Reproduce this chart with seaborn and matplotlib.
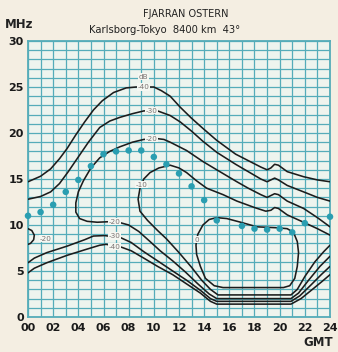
import matplotlib
matplotlib.use("Agg")
import matplotlib.pyplot as plt
import numpy as np
import pandas as pd
import seaborn as sns

# ---- data: signal-to-noise contours (dB) over hour (GMT) and frequency (MHz) ----
db40_upper_h = [0, 1, 1.8, 2.5, 3.1, 3.8, 4.5, 5.2, 5.9, 6.8, 7.8, 8.6, 9.3, 10.0, 10.6, 11.3, 12.1, 13.0,
                13.9, 15.0, 16.5, 17.5, 18.5, 19.0, 19.3, 19.6, 19.9, 20.6, 21.9, 23.0, 24]
db40_upper_f = [14.7, 15.3, 16.1, 17.2, 18.3, 19.8, 21.2, 22.5, 23.5, 24.4, 24.9, 25.0, 25.0, 25.0, 24.6, 24.0,
                22.8, 21.6, 20.5, 19.2, 17.7, 17.0, 16.3, 16.0, 16.2, 16.6, 16.5, 15.8, 15.25, 14.9, 14.7]

db30_upper_h = [0, 1, 1.8, 2.5, 3.2, 4.0, 4.8, 5.7, 6.5, 7.3, 8.3, 9.2, 10.2, 11.3, 12.1, 13.0, 13.9, 15.0,
                16.5, 17.5, 18.5, 19.0, 19.3, 19.6, 19.9, 20.6, 21.9, 23.0, 24]
db30_upper_f = [12.8, 13.1, 13.6, 14.5, 15.8, 17.4, 19.0, 20.6, 21.3, 21.7, 22.1, 22.4, 22.45, 21.9, 21.2,
                20.2, 19.1, 17.9, 16.6, 15.8, 15.0, 14.7, 14.9, 15.1, 14.9, 14.3, 13.6, 13.0, 12.6]

db20_h = [24, 23.2, 22.3, 21.5, 20.9, 15.0, 14.4, 13.5, 12.5, 11.5, 10.5, 9.7, 8.8, 8.0, 7.2, 6.3, 5.5, 4.7,
          4.1, 3.8, 3.8, 4.0, 4.4, 5.0, 5.7, 6.5, 7.3, 8.3, 9.2, 10.2, 10.8, 11.3, 12.6, 13.9, 15.0, 16.6,
          17.5, 18.5, 19.0, 19.3, 19.6, 19.9, 20.6, 21.9, 23.0, 24]
db20_f = [6.6, 5.5, 4.0, 2.6, 2.0, 2.0, 2.5, 3.6, 4.9, 6.1, 7.2, 8.2, 9.3, 10.0, 10.3, 10.35, 10.3, 10.4,
          10.7, 11.4, 12.4, 13.6, 14.8, 16.2, 17.3, 18.0, 18.5, 19.0, 19.3, 19.4, 19.3, 19.0, 18.1, 16.9,
          16.0, 14.7, 14.0, 13.3, 13.0, 13.2, 13.4, 13.3, 12.6, 11.8, 10.8, 9.8]

db20_edge_h = [0, 0.3, 0.5, 0.45, 0.2, 0]
db20_edge_f = [9.6, 9.4, 8.9, 8.4, 8.0, 7.9]

db30_lower_h = [0, 0.5, 1.5, 3.1, 4.5, 5.2, 6.1, 7.4, 8.2, 9.2, 10.3, 11.5, 12.6, 13.7, 14.5, 15.0,
                20.9, 21.6, 22.5, 23.3, 24]
db30_lower_f = [5.9, 6.4, 7.0, 7.7, 8.4, 8.8, 8.85, 8.6, 8.1, 7.1, 6.1, 5.0, 4.0, 2.9, 2.0, 1.7,
                1.7, 2.3, 3.5, 4.6, 5.5]

db40_lower_h = [0, 0.5, 1.5, 3.1, 4.5, 5.7, 6.2, 7.4, 8.2, 9.2, 10.3, 11.5, 12.6, 13.7, 14.5, 15.0,
                20.9, 21.7, 22.6, 23.4, 24]
db40_lower_f = [4.8, 5.3, 5.9, 6.7, 7.3, 7.8, 7.9, 7.6, 7.2, 6.4, 5.5, 4.6, 3.6, 2.6, 1.7, 1.4,
                1.4, 2.0, 3.0, 3.9, 4.6]

db10_h = [24, 23.5, 22.8, 22.0, 21.4, 20.9, 15.1, 14.5, 13.8, 13.0, 12.0, 11.0, 10.3, 9.5, 8.9, 8.75,
          8.9, 9.2, 9.7, 10.4, 11.3, 12.0, 12.6, 13.4, 14.2, 15.5, 16.6, 18.0, 18.9, 19.3, 19.6, 19.9,
          20.6, 21.9, 23.0, 24]
db10_f = [7.8, 7.1, 6.0, 4.4, 3.0, 2.4, 2.4, 3.0, 4.0, 5.4, 7.0, 8.5, 9.4, 10.5, 11.5, 12.8,
          14.0, 15.0, 15.7, 16.2, 16.5, 16.2, 15.7, 14.8, 14.0, 13.3, 12.6, 11.9, 11.5, 11.6, 11.9, 11.8,
          11.1, 10.3, 9.6, 8.9]

db0_h = [13.4, 13.5, 13.9, 14.4, 15.0, 15.8, 16.9, 18.2, 19.8, 20.6, 21.1, 21.4, 21.5, 21.4, 21.2, 20.8,
         20.3, 15.5, 14.8, 14.1, 13.7, 13.4, 13.35, 13.4]
db0_f = [8.4, 9.0, 10.0, 10.6, 10.8, 10.7, 10.3, 9.8, 9.7, 9.6, 9.2, 8.2, 7.0, 5.5, 4.2, 3.4,
         3.2, 3.2, 3.4, 4.2, 5.5, 6.8, 7.8, 8.4]

# hourly maximum usable frequency points
muf_h = [0, 1, 2, 3, 4, 5, 6, 7, 8, 9, 10, 11, 12, 13, 14, 15, 17, 18, 19, 20, 21, 22, 24]
muf_f = [11.0, 11.4, 12.2, 13.6, 14.9, 16.4, 17.7, 18.0, 18.1, 18.1, 17.4, 16.6, 15.6, 14.2, 12.7, 10.5,
         9.9, 9.6, 9.5, 9.6, 9.2, 10.2, 10.9]

# contour level labels
label_text = ["dB", "-40", "-30", "-20", "-10", "0", "-20", "-30", "-40", "-20"]
label_h = [9.2, 9.2, 9.8, 9.8, 9.0, 13.4, 6.9, 6.9, 6.9, 1.4]
label_f = [26.1, 25.0, 22.4, 19.4, 14.4, 8.4, 10.35, 8.8, 7.65, 8.5]

hour_ticks = list(range(0, 25, 2))
hour_labels = [f"{h:02d}" for h in hour_ticks]
mhz_ticks = list(range(0, 31, 5))

# ---- drawing ----
sns.set_style("white")
plt.rcParams["font.family"] = ["DejaVu Sans"]

paper = "#f4eee2"
cell = "#eef4ee"
grid_c = "#55acb9"
ink = "#1c1c1c"

fig = plt.figure(figsize=(3.38, 3.52), dpi=100, facecolor=paper)
ax = fig.add_axes([28 / 338, 35 / 352, 302 / 338, 276 / 352])
ax.set_facecolor(cell)

paths = [
    (db40_upper_h, db40_upper_f),
    (db30_upper_h, db30_upper_f),
    (db20_h, db20_f),
    (db20_edge_h, db20_edge_f),
    (db30_lower_h, db30_lower_f),
    (db40_lower_h, db40_lower_f),
    (db10_h, db10_f),
    (db0_h, db0_f),
]
for hh, ff in paths:
    df = pd.DataFrame({"GMT": hh, "MHz": ff})
    sns.lineplot(data=df, x="GMT", y="MHz", sort=False, estimator=None,
                 color=ink, lw=1.15, ax=ax, zorder=3)

sns.scatterplot(x=muf_h, y=muf_f, color="#2a9eb1", s=22, edgecolor="none",
                ax=ax, zorder=4, clip_on=False)

for t, x, y in zip(label_text, label_h, label_f):
    ax.text(x, y, t, fontsize=5.2, color="#7a7272", ha="center", va="center", zorder=5,
            bbox=dict(boxstyle="square,pad=0.08", fc="#f5f7f2", ec="none"))

ax.set_xlim(0, 24)
ax.set_ylim(0, 30)
ax.set_xticks(hour_ticks)
ax.set_xticklabels(hour_labels, fontweight="bold")
ax.set_yticks(mhz_ticks)
ax.set_yticklabels([str(v) for v in mhz_ticks], fontweight="bold")
ax.set_xticks(range(0, 25), minor=True)
ax.set_yticks(range(0, 31), minor=True)
ax.grid(which="both", color=grid_c, lw=0.9)
ax.set_axisbelow(True)
ax.set_xlabel("")
ax.set_ylabel("")
ax.tick_params(which="both", length=0, labelsize=8, colors="#1a1a1a")
ax.tick_params(axis="x", pad=4)
ax.tick_params(axis="y", pad=3)
for s in ax.spines.values():
    s.set_color(grid_c)
    s.set_linewidth(1.3)

fig.text(186 / 338, 1 - 14 / 352, "FJARRAN OSTERN", ha="center", va="center",
         fontsize=7, color="#222")
fig.text(165 / 338, 1 - 30 / 352, "Karlsborg-Tokyo  8400 km  43°", ha="center", va="center",
         fontsize=7.2, color="#222")
fig.text(5 / 338, 1 - 25 / 352, "MHz", ha="left", va="center", fontsize=8.5,
         fontweight="bold", color="#222")
fig.text(333 / 338, 1 - 343 / 352, "GMT", ha="right", va="center", fontsize=8.5,
         fontweight="bold", color="#222")

fig.savefig("out.png", dpi=100, facecolor=paper)
